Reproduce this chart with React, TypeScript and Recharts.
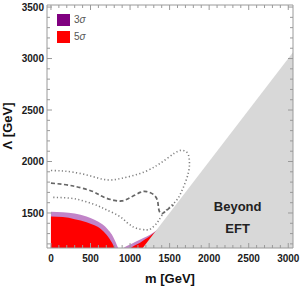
import React from "react";
import { ComposedChart, Area, Line, XAxis, YAxis, ReferenceDot } from "recharts";

const FONT = "'Liberation Sans', Arial, sans-serif";
const FRAME = "#9a9a9a";
const PURPLE = "#800080";
const PURPLE_BAND = "#c184c8";
const RED = "#ff0000";
const GRAY = "#d8d8d8";

// tick values (every 100 GeV, labels on multiples of 500)
const xTicks = [
  0, 100, 200, 300, 400, 500, 600, 700, 800, 900, 1000, 1100, 1200, 1300, 1400, 1500,
  1600, 1700, 1800, 1900, 2000, 2100, 2200, 2300, 2400, 2500, 2600, 2700, 2800, 2900, 3000,
];
const yTicks = [
  1200, 1300, 1400, 1500, 1600, 1700, 1800, 1900, 2000, 2100, 2200, 2300, 2400, 2500,
  2600, 2700, 2800, 2900, 3000, 3100, 3200, 3300, 3400, 3500,
];

// 3σ region (two lobes)
const sigma3Left = [
  { m: 0, L: 1513 }, { m: 150, L: 1508 }, { m: 300, L: 1494 }, { m: 450, L: 1466 },
  { m: 550, L: 1434 }, { m: 650, L: 1390 }, { m: 720, L: 1340 }, { m: 770, L: 1290 },
  { m: 810, L: 1230 }, { m: 838, L: 1180 }, { m: 852, L: 1160 },
];
const sigma3Right = [
  { m: 915, L: 1160 }, { m: 979, L: 1186 }, { m: 1063, L: 1218 }, { m: 1168, L: 1257 },
  { m: 1253, L: 1289 }, { m: 1338, L: 1332 }, { m: 1400, L: 1370 },
];

// 5σ region (two lobes)
const sigma5Left = [
  { m: 0, L: 1466 }, { m: 150, L: 1460 }, { m: 300, L: 1440 }, { m: 450, L: 1410 },
  { m: 550, L: 1380 }, { m: 630, L: 1345 }, { m: 700, L: 1292 }, { m: 740, L: 1250 },
  { m: 772, L: 1210 }, { m: 795, L: 1178 }, { m: 810, L: 1160 },
];
const sigma5Right = [
  { m: 1009, L: 1160 }, { m: 1063, L: 1186 }, { m: 1127, L: 1212 }, { m: 1190, L: 1245 },
  { m: 1253, L: 1277 }, { m: 1316, L: 1316 }, { m: 1380, L: 1355 },
];

// Λ < m : beyond EFT validity
const beyondEFT = [
  { m: 1160, L: 1160 }, { m: 3060, L: 3060 },
];

// central expected contour (dashed)
const dashedCurve = [
  { m: 0, L: 1790 }, { m: 150, L: 1778 }, { m: 282, L: 1762 }, { m: 400, L: 1740 },
  { m: 535, L: 1707 }, { m: 620, L: 1672 }, { m: 705, L: 1643 }, { m: 800, L: 1622 },
  { m: 895, L: 1617 }, { m: 1000, L: 1648 }, { m: 1127, L: 1700 }, { m: 1211, L: 1708 },
  { m: 1295, L: 1680 }, { m: 1345, L: 1625 }, { m: 1358, L: 1560 }, { m: 1375, L: 1508 },
  { m: 1410, L: 1495 }, { m: 1465, L: 1527 }, { m: 1548, L: 1578 },
];

// ±1σ band (dotted, closed loop)
const dottedBand = [
  { m: 0, L: 1913 }, { m: 150, L: 1908 }, { m: 282, L: 1896 }, { m: 450, L: 1870 },
  { m: 600, L: 1838 }, { m: 705, L: 1822 }, { m: 800, L: 1823 }, { m: 900, L: 1838 },
  { m: 1042, L: 1864 }, { m: 1200, L: 1905 }, { m: 1337, L: 1961 }, { m: 1450, L: 2020 },
  { m: 1560, L: 2080 }, { m: 1640, L: 2108 }, { m: 1700, L: 2100 }, { m: 1738, L: 2063 },
  { m: 1751, L: 1990 }, { m: 1740, L: 1900 }, { m: 1696, L: 1791 }, { m: 1640, L: 1690 },
  { m: 1591, L: 1626 }, { m: 1506, L: 1561 }, { m: 1421, L: 1497 }, { m: 1360, L: 1425 },
  { m: 1316, L: 1383 }, { m: 1260, L: 1345 }, { m: 1211, L: 1336 }, { m: 1130, L: 1342 },
  { m: 1042, L: 1364 }, { m: 958, L: 1410 }, { m: 850, L: 1475 }, { m: 705, L: 1529 },
  { m: 600, L: 1568 }, { m: 450, L: 1608 }, { m: 300, L: 1638 }, { m: 150, L: 1649 },
  { m: 0, L: 1652 },
];

const tickText = {
  fontFamily: FONT,
  fontSize: 10,
  fontWeight: 700,
  fill: "#1a1a1a",
};

const LeftTick = (props: any) => {
  const { x, y, payload } = props;
  const major = payload.value % 500 === 0;
  return (
    <g>
      <line x1={x} y1={y} x2={x + (major ? 5 : 3)} y2={y} stroke={FRAME} />
      {major && (
        <text x={x - 3} y={y} dy={3.6} textAnchor="end" {...tickText}>
          {payload.value}
        </text>
      )}
    </g>
  );
};

const RightTick = (props: any) => {
  const { x, y, payload } = props;
  const major = payload.value % 500 === 0;
  return <line x1={x} y1={y} x2={x - (major ? 5 : 3)} y2={y} stroke={FRAME} />;
};

const BottomTick = (props: any) => {
  const { x, y, payload } = props;
  const major = payload.value % 500 === 0;
  return (
    <g>
      <line x1={x} y1={y} x2={x} y2={y - (major ? 5 : 3)} stroke={FRAME} />
      {major && (
        <text x={x} y={y + 14} textAnchor="middle" {...tickText}>
          {payload.value}
        </text>
      )}
    </g>
  );
};

const TopTick = (props: any) => {
  const { x, y, payload } = props;
  const major = payload.value % 500 === 0;
  return <line x1={x} y1={y} x2={x} y2={y + (major ? 5 : 3)} stroke={FRAME} />;
};

const titleStyle = {
  fontFamily: FONT,
  fontSize: 13,
  fontWeight: 700,
  fill: "#111",
};

const LegendBox = () => (
  <div style={{ position: "absolute", left: 57, top: 13, fontFamily: FONT, fontSize: 10, color: "#555" }}>
    {[
      { c: PURPLE, n: "3" },
      { c: RED, n: "5" },
    ].map((e, i) => (
      <div key={i} style={{ display: "flex", alignItems: "center", height: 13, marginBottom: 4 }}>
        <div style={{ width: 13, height: 12, background: e.c, marginRight: 4 }} />
        <span>
          {e.n}
          <i>σ</i>
        </span>
      </div>
    ))}
  </div>
);

export default function App() {
  return (
    <div style={{ position: "absolute", left: 0, top: 0, width: 300, height: 286, background: "#fff" }}>
      <ComposedChart width={300} height={286} margin={{ top: 0, right: 0, bottom: 0, left: 0 }}>
        <XAxis
          xAxisId={0}
          dataKey="m"
          type="number"
          domain={[-50, 3060]}
          allowDataOverflow
          ticks={xTicks}
          interval={0}
          height={38}
          tickSize={0}
          tickMargin={0}
          tickLine={false}
          axisLine={{ stroke: FRAME }}
          tick={<BottomTick />}
          label={{
            content: () => (
              <text x={170} y={283} textAnchor="middle" {...titleStyle}>
                m [GeV]
              </text>
            ),
          }}
        />
        <XAxis
          xAxisId="t"
          orientation="top"
          dataKey="m"
          type="number"
          domain={[-50, 3060]}
          allowDataOverflow
          ticks={xTicks}
          interval={0}
          height={5}
          tickSize={0}
          tickMargin={0}
          tickLine={false}
          axisLine={{ stroke: FRAME }}
          tick={<TopTick />}
        />
        <YAxis
          yAxisId={0}
          type="number"
          domain={[1160, 3520]}
          allowDataOverflow
          ticks={yTicks}
          interval={0}
          width={47}
          tickSize={0}
          tickMargin={0}
          tickLine={false}
          axisLine={{ stroke: FRAME }}
          tick={<LeftTick />}
          label={{
            content: () => (
              <text x={12} y={126} textAnchor="middle" transform="rotate(-90 12 126)" {...titleStyle}>
                Λ [GeV]
              </text>
            ),
          }}
        />
        <YAxis
          yAxisId="r"
          orientation="right"
          type="number"
          domain={[1160, 3520]}
          allowDataOverflow
          ticks={yTicks}
          interval={0}
          width={7}
          tickSize={0}
          tickMargin={0}
          tickLine={false}
          axisLine={{ stroke: FRAME }}
          tick={<RightTick />}
        />

        <Area data={sigma3Left} dataKey="L" type="monotone" fill={PURPLE_BAND} fillOpacity={1} stroke="none" isAnimationActive={false} />
        <Area data={sigma3Right} dataKey="L" type="monotone" fill={PURPLE_BAND} fillOpacity={1} stroke="none" isAnimationActive={false} />
        <Area data={sigma5Left} dataKey="L" type="monotone" fill={RED} fillOpacity={1} stroke="none" isAnimationActive={false} />
        <Area data={sigma5Right} dataKey="L" type="monotone" fill={RED} fillOpacity={1} stroke="none" isAnimationActive={false} />
        <Area data={beyondEFT} dataKey="L" type="linear" fill={GRAY} fillOpacity={1} stroke="none" isAnimationActive={false} />

        <Line data={dottedBand} dataKey="L" type="natural" stroke="#808080" strokeWidth={1.6} strokeDasharray="1.2 2.4" dot={false} isAnimationActive={false} />
        <Line data={dashedCurve} dataKey="L" type="natural" stroke="#666666" strokeWidth={1.7} strokeDasharray="4 2.5" dot={false} isAnimationActive={false} />

        <ReferenceDot x={2360} y={1568} r={0} fill="none" stroke="none"
          label={{ value: "Beyond", position: "center", fontSize: 13, fontWeight: 700, fill: "#222", fontFamily: FONT }} />
        <ReferenceDot x={2360} y={1354} r={0} fill="none" stroke="none"
          label={{ value: "EFT", position: "center", fontSize: 13, fontWeight: 700, fill: "#222", fontFamily: FONT }} />
      </ComposedChart>
      <LegendBox />
    </div>
  );
}
